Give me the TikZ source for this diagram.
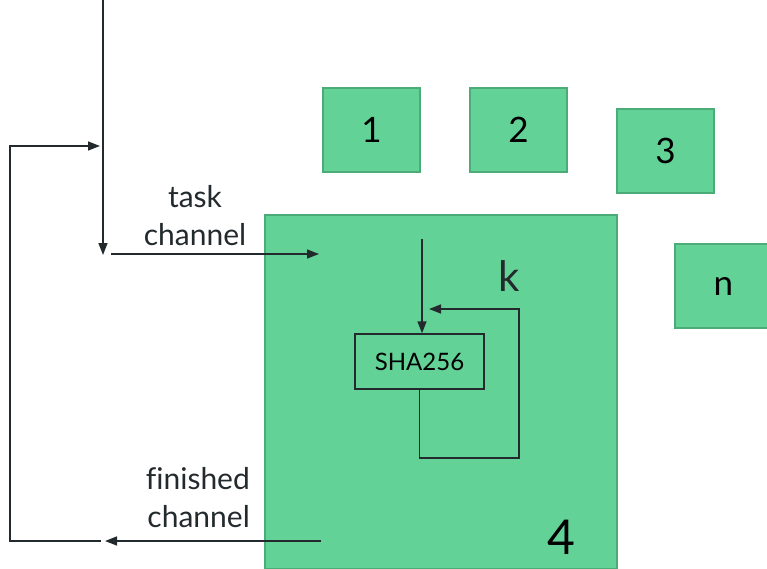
\documentclass[tikz,border=0pt]{standalone}
\usepackage{fontspec}
\setmainfont{Lato}[Ligatures=CommonOff]
\usetikzlibrary{arrows.meta}
\definecolor{boxfill}{RGB}{99,210,151}
\definecolor{boxline}{RGB}{76,172,120}
\definecolor{wire}{RGB}{35,42,45}

\begin{document}
\begin{tikzpicture}[x=1pt,y=-1pt,>={Triangle[length=12pt,width=9pt]},line width=1.6pt,
  worker/.style={draw=boxline,fill=boxfill,line width=1.5pt,minimum width=97pt,minimum height=84pt,inner sep=0pt,font=\fontsize{35}{40}\selectfont},
  hashbox/.style={draw=wire,line width=1.5pt,minimum width=129pt,minimum height=55pt,inner sep=0pt,font=\fontsize{24}{28}\selectfont},
  lbl/.style={text=wire,font=\fontsize{30}{38}\selectfont}]
\useasboundingbox (0,0) rectangle (767,569);
\node[worker] (w1) at (371.5,130) {1};
\node[worker] (w2) at (518.5,130) {2};
\node[worker] (w3) at (665.5,151) {3};
\node[worker] (wn) at (723.5,286) {n};
\node[worker,minimum width=352pt,minimum height=354pt] (w4) at (441,392) {};
\node[font=\fontsize{48}{50}\selectfont] (n4) at (561,537) {4};
\node[hashbox] (sha) at (419.5,361.5) {SHA256};
\node[text=wire,font=\fontsize{42}{44}\selectfont] (k) at (509,276) {k};
\node[lbl,align=center] (task) at (195,216) {task\\channel};
\node[lbl,align=right,anchor=east] (done) at (254,498) {finished\\channel};
\coordinate (in) at (103,0);
\coordinate (fork) at (103,255);
\coordinate (tstart) at (111,254);
\coordinate (tend) at (319,254);
\coordinate (fstart) at (321,541);
\coordinate (fend) at (105,541);
\coordinate (lstart) at (101,541);
\coordinate (lend) at (100,146);
\coordinate (hin) at (422,239);
\coordinate (kend) at (429,309);
\draw[wire,->] (in) -- (fork);
\draw[wire,->] (tstart) -- (tend);
\draw[wire,->] (fstart) -- (fend);
\draw[wire,->] (lstart) -- (10,541) -- (10,146) -- (lend);
\draw[wire,->] (hin) -- (hin |- sha.north);
\draw[wire,->] (sha.south) -- ++(0,68) -| (519,309) -- (kend);
\end{tikzpicture}
\end{document}
